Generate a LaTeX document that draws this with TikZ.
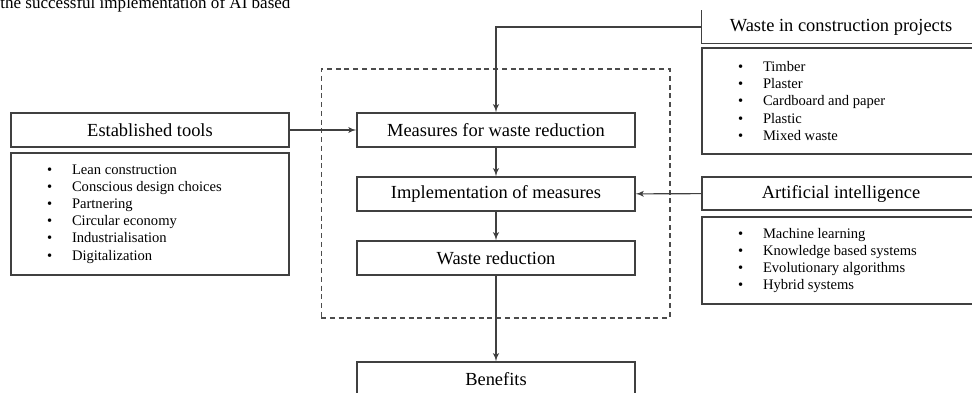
\documentclass[tikz,border=0pt]{standalone}
\usepackage{fontspec}
\setmainfont{Liberation Serif}
\usetikzlibrary{arrows,positioning,shapes}
\usepackage{xcolor}

\newcommand{\bulletline}[1]{\hspace*{0.72cm}\makebox[0.5cm][l]{\textbullet}#1}

\begin{document}
\begin{tikzpicture}[x=0.02cm,y=-0.02cm,
        headbox/.style={draw=black!75,line width=0.8pt,rectangle,minimum height=0.68cm,minimum width=5.56cm,inner sep=0pt,align=center,font=\fontsize{10.5}{12}\selectfont},
        listbox/.style={draw=black!75,line width=0.8pt,rectangle,minimum width=5.56cm,text width=5.56cm,inner xsep=0pt,inner ysep=0pt,align=flush left,font=\fontsize{8.3}{9.75}\selectfont},
        frame/.style={draw=black!70,line width=0.6pt,dash pattern=on 1mm off 0.75mm,rectangle,inner sep=0pt}]
        \clip (0,0) rectangle (972,392);

        % text of the page above the figure
        \node[anchor=base west,inner sep=0pt,font=\fontsize{9.7}{11}\selectfont] (pagetext) at (0,8.5) {the successful implementation of AI based};

        % dashed frame round the measures
        \node[frame,minimum width=6.98cm,minimum height=4.98cm] (frame) at (495.5,193.5) {};

        % centre column
        \node[headbox] (measures) at (496,130) {Measures for waste reduction};
        \node[headbox] (implement) at (496,194) {Implementation of measures};
        \node[headbox] (reduction) at (496,258) {Waste reduction};
        \node[headbox] (benefits) at (496,379) {Benefits};

        % left column
        \node[headbox] (tools) at (150,130) {Established tools};
        \node[listbox,minimum height=2.44cm] (toollist) at (150,214) {\bulletline{Lean construction}\\ \bulletline{Conscious design choices}\\ \bulletline{Partnering}\\ \bulletline{Circular economy}\\ \bulletline{Industrialisation}\\ \bulletline{Digitalization}};

        % right column
        \node[headbox,draw=none,minimum height=0.64cm] (waste) at (841,27) {Waste in construction projects};
        \draw[black!75,line width=0.8pt] (waste.north west) -- (waste.south west) -- (waste.south east);
        \node[listbox,minimum height=2.12cm] (wastelist) at (841,101) {\bulletline{Timber}\\ \bulletline{Plaster}\\ \bulletline{Cardboard and paper}\\ \bulletline{Plastic}\\ \bulletline{Mixed waste}};
        \node[headbox,minimum height=0.66cm] (ai) at (841,193.5) {Artificial intelligence};
        \node[listbox,minimum height=1.74cm] (ailist) at (841,260.5) {\bulletline{Machine learning}\\ \bulletline{Knowledge based systems}\\ \bulletline{Evolutionary algorithms}\\ \bulletline{Hybrid systems}};

        \path[draw=black!75,line width=0.6pt,-latex'](waste.west) -| (measures.north);
        \path[draw=black!75,line width=0.6pt,-latex'](tools) -- (measures);
        \path[draw=black!75,line width=0.6pt,-latex'](ai) -- (implement);
        \path[draw=black!75,line width=0.6pt,-latex'](measures) -- (implement);
        \path[draw=black!75,line width=0.6pt,-latex'](implement) -- (reduction);
        \path[draw=black!75,line width=0.6pt,-latex'](reduction) -- (benefits);
\end{tikzpicture}
\end{document}
